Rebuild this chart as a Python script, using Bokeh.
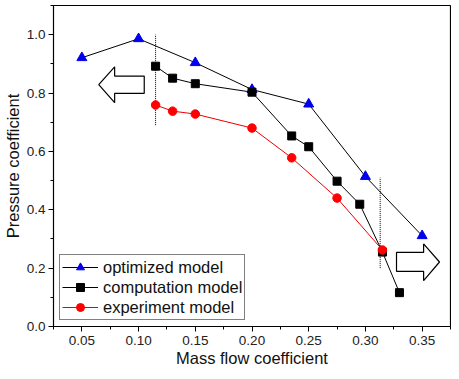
from bokeh.plotting import figure
from bokeh.models import Range1d, FixedTicker, NumeralTickFormatter, Legend
from bokeh.embed import file_html
from bokeh.resources import INLINE

# ---- data ----
opt_x = [0.05, 0.10, 0.15, 0.20, 0.25, 0.30, 0.35]
opt_y = [0.921, 0.986, 0.904, 0.812, 0.762, 0.514, 0.311]

comp_x = [0.115, 0.13, 0.15, 0.20, 0.235, 0.25, 0.275, 0.295, 0.315, 0.33]
comp_y = [0.892, 0.851, 0.832, 0.803, 0.653, 0.616, 0.498, 0.419, 0.255, 0.116]

exp_x = [0.115, 0.13, 0.15, 0.20, 0.235, 0.275, 0.315]
exp_y = [0.759, 0.738, 0.728, 0.680, 0.578, 0.440, 0.262]

# dotted boundary lines
div1_x = [0.115, 0.115]
div1_y = [0.69, 1.0]
div2_x = [0.313, 0.313]
div2_y = [0.20, 0.51]

# hollow block arrows (left / right)
larrow_x = [0.0649, 0.0789, 0.0789, 0.105, 0.105, 0.0789, 0.0789]
larrow_y = [0.829, 0.890, 0.858, 0.858, 0.799, 0.799, 0.767]
rarrow_x = [0.3653, 0.3513, 0.3513, 0.3274, 0.3274, 0.3513, 0.3513]
rarrow_y = [0.221, 0.283, 0.254, 0.254, 0.189, 0.189, 0.157]

x_ticks = [0.05, 0.10, 0.15, 0.20, 0.25, 0.30, 0.35]
x_minor = [0.025, 0.075, 0.125, 0.175, 0.225, 0.275, 0.325, 0.375]
y_ticks = [0.0, 0.2, 0.4, 0.6, 0.8, 1.0]
y_minor = [0.1, 0.3, 0.5, 0.7, 0.9, 1.1]

FONT = "Liberation Sans"

p = figure(width=451, height=371, output_backend="svg", toolbar_location=None,
           x_range=Range1d(0.025, 0.375), y_range=Range1d(0.0, 1.1),
           min_border_left=53, min_border_right=1, min_border_top=5, min_border_bottom=45)

p.xgrid.visible = False
p.ygrid.visible = False
p.outline_line_color = "black"
p.outline_line_width = 1.2

for ax, ticks, minor in ((p.xaxis[0], x_ticks, x_minor), (p.yaxis[0], y_ticks, y_minor)):
    ax.ticker = FixedTicker(ticks=ticks, minor_ticks=minor)
    ax.major_tick_out = 5
    ax.major_tick_in = 0
    ax.minor_tick_out = 3
    ax.minor_tick_in = 0
    ax.axis_line_color = "black"
    ax.major_tick_line_color = "black"
    ax.minor_tick_line_color = "black"
    ax.major_label_text_font = FONT
    ax.major_label_text_font_size = "13.5px"
    ax.major_label_text_color = "#222222"
    ax.axis_label_text_font = FONT
    ax.axis_label_text_font_size = "16.5px"
    ax.axis_label_text_font_style = "normal"
    ax.axis_label_text_color = "#111111"

p.xaxis[0].formatter = NumeralTickFormatter(format="0.00")
p.yaxis[0].formatter = NumeralTickFormatter(format="0.0")
p.xaxis[0].axis_label = "Mass flow coefficient"
p.yaxis[0].axis_label = "Pressure coefficient"
p.xaxis[0].major_label_standoff = 4
p.xaxis[0].axis_label_standoff = 1
p.yaxis[0].major_label_standoff = 3
p.yaxis[0].axis_label_standoff = 2

# arrows and dotted lines
p.patch(larrow_x, larrow_y, fill_color="white", line_color="black", line_width=1.2)
p.patch(rarrow_x, rarrow_y, fill_color="white", line_color="black", line_width=1.2)
p.line(div1_x, div1_y, line_color="black", line_width=1, line_dash="1 1")
p.line(div2_x, div2_y, line_color="black", line_width=1, line_dash="1 1")

l1 = p.line(opt_x, opt_y, line_color="black", line_width=1)
s1 = p.scatter(opt_x, opt_y, marker="triangle", size=10, fill_color="#0000ee", line_color="#0000ee")
l2 = p.line(comp_x, comp_y, line_color="black", line_width=1)
s2 = p.scatter(comp_x, comp_y, marker="square", size=8, fill_color="black", line_color="black")
l3 = p.line(exp_x, exp_y, line_color="#ee0000", line_width=1)
s3 = p.scatter(exp_x, exp_y, marker="circle", size=8.5, fill_color="#ff0000", line_color="#ff0000")

legend = Legend(items=[("optimized model", [l1, s1]),
                       ("computation model", [l2, s2]),
                       ("experiment model", [l3, s3])],
                location="bottom_left")
legend.label_text_font = FONT
legend.label_text_font_size = "16.5px"
legend.label_text_color = "#111111"
legend.border_line_color = "black"
legend.border_line_width = 1.2
legend.background_fill_alpha = 1
legend.glyph_width = 36
legend.glyph_height = 20
legend.label_height = 20
legend.label_standoff = 5
legend.spacing = 0
legend.padding = 2
legend.margin = 6
p.add_layout(legend)

open("out.html", "w").write(file_html(p, INLINE))
